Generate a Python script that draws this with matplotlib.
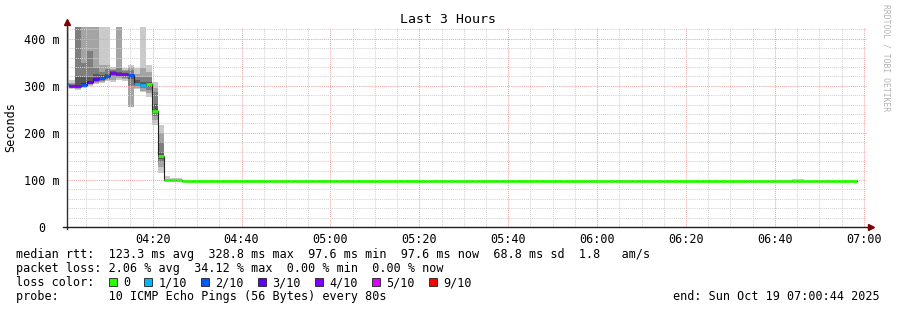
import numpy as np
import matplotlib
matplotlib.use('Agg')
import matplotlib.pyplot as plt
from matplotlib.patches import Rectangle

plt.rcParams['font.family'] = ['DejaVu Sans Mono', 'DejaVu Sans']

W, H = 897, 310

# time axis in minutes since 04:00, one RRD step = 80 s
step_sec = 80
first_step_sec = -9
view_start = 0.733   # 04:00:44
view_end = 180.733   # 07:00:44

# first steps (the slow part): 10 sorted ping times in ms
head_pings = [
    [296, 300, 301, 302, 303, 304, 305, 305, 306, 450],
    [293, 295, 297, 298, 299, 300, 302, 304, 306, 312],
    [292, 294, 296, 298, 300, 301, 318, 450, 450, 450],
    [296, 298, 300, 302, 303, 305, 318, 349, 450, 450],
    [300, 302, 304, 306, 308, 310, 318, 374, 450, 450],
    [304, 306, 308, 310, 313, 316, 325, 338, 450, 450],
    [305, 308, 310, 313, 316, 318, 322, 330, 345, 450],
    [310, 312, 314, 316, 318, 321, 325, 335, 345, 450],
    [309, 313, 318, 322, 326, 329, 331, 334, 336, 339],
    [313, 316, 319, 321, 324, 326, 330, 338, 450, 450],
    [311, 314, 317, 320, 323, 325, 328, 331, 334, 338],
    [254, 256, 300, 314, 318, 322, 326, 333, 340, 345],
    [293, 296, 299, 301, 303, 305, 312, 318, 326, 338],
    [286, 290, 295, 298, 300, 303, 308, 318, 338, 450],
    [277, 285, 292, 297, 301, 304, 308, 318, 330, 345],
    [217, 228, 236, 242, 246, 248, 262, 287, 296, 309],
    [115, 128, 138, 145, 149, 151, 160, 181, 200, 217],
]
head_median = [303.5, 300, 300, 302, 309, 315, 316, 320, 327, 325, 325, 322,
               304, 302, 304, 247, 150]
head_loss = [1, 4, 4, 2, 3, 3, 2, 2, 4, 4, 4, 2, 1, 1, 0, 0, 0]

# rest of the window: median and highest ping (ms)
tail_median = [
    99.4, 98.9, 98.9, 97.9, 97.9, 97.9, 98.4, 98.4,
    97.9, 97.9, 97.9, 97.9, 97.9, 97.9, 97.9, 97.9,
    98.4, 98.4, 97.6, 97.6, 97.6, 97.6, 97.6, 97.6,
    98.4, 98.4, 97.9, 97.9, 97.9, 97.9, 97.9, 97.9,
    97.8, 97.8, 97.8, 97.8, 97.8, 97.8, 97.8, 97.8,
    98.1, 98.1, 98.1, 98.1, 97.7, 97.7, 97.7, 97.7,
    97.7, 97.7, 97.7, 97.7, 97.7, 97.7, 97.9, 97.9,
    97.9, 97.9, 97.9, 97.9, 97.9, 97.9, 97.9, 97.9,
    97.8, 97.8, 97.8, 97.8, 97.8, 97.8, 97.8, 97.8,
    97.8, 97.8, 97.8, 97.8, 97.8, 97.8, 97.8, 97.7,
    97.7, 97.7, 97.7, 97.7, 97.7, 97.7, 97.7, 97.7,
    97.7, 97.7, 97.7, 97.7, 97.7, 97.7, 97.8, 97.8,
    97.8, 97.8, 97.8, 97.8, 97.8, 97.8, 97.8, 97.8,
    97.8, 97.8, 97.9, 98.0, 97.8, 97.8, 97.8, 97.8,
    97.8, 97.8, 97.8, 97.8, 97.6,
]
tail_top = [
    108.0, 104.5, 104.0, 98.9, 98.9, 98.9, 99.4, 99.4,
    98.9, 98.9, 98.9, 98.9, 98.9, 98.9, 98.9, 98.9,
    99.4, 99.4, 98.6, 98.6, 98.6, 98.6, 98.6, 98.6,
    100.2, 100.6, 98.9, 98.9, 98.9, 98.9, 98.9, 98.9,
    98.8, 98.8, 98.8, 98.8, 98.8, 98.8, 98.8, 98.8,
    99.1, 99.1, 99.1, 99.1, 98.7, 98.7, 98.7, 98.7,
    98.7, 98.7, 98.7, 98.7, 98.7, 98.7, 98.9, 98.9,
    98.9, 98.9, 98.9, 98.9, 98.9, 98.9, 98.9, 98.9,
    98.8, 98.8, 98.8, 98.8, 98.8, 98.8, 98.8, 98.8,
    98.8, 98.8, 98.8, 98.8, 98.8, 98.8, 98.8, 98.7,
    98.7, 98.7, 98.7, 98.7, 98.7, 98.7, 98.7, 98.7,
    98.7, 98.7, 98.7, 98.7, 98.7, 98.7, 98.8, 98.8,
    98.8, 98.8, 98.8, 98.8, 98.8, 98.8, 98.8, 98.8,
    98.8, 98.8, 101.5, 103.0, 98.8, 98.8, 98.8, 98.8,
    98.8, 98.8, 98.8, 98.8, 98.6,
]
tail_loss = [0] * len(tail_median)

loss_levels = [0, 1, 2, 3, 4, 5, 9]
loss_labels = ['0', '1/10', '2/10', '3/10', '4/10', '5/10', '9/10']
loss_colors = ['#26ff00', '#00b8ff', '#0059ff', '#5e00ff', '#7e00ff', '#dd00ff', '#ff0000']
smoke_shades = ['#cacaca', '#a4a4a4', '#7e7e7e', '#585858', '#323232']

xtick_min = [20, 40, 60, 80, 100, 120, 140, 160, 180]
xtick_labels = ['04:20', '04:40', '05:00', '05:20', '05:40', '06:00', '06:20', '06:40', '07:00']
ytick_vals = [0, 100, 200, 300, 400]
ytick_labels = ['0  ', '100 m', '200 m', '300 m', '400 m']

stats_lines = [
    'median rtt:  123.3 ms avg  328.8 ms max  97.6 ms min  97.6 ms now  68.8 ms sd  1.8   am/s',
    'packet loss: 2.06 % avg  34.12 % max  0.00 % min  0.00 % now',
    'loss color:',
    'probe:       10 ICMP Echo Pings (56 Bytes) every 80s',
]
end_text = 'end: Sun Oct 19 07:00:44 2025'


def stairs(edges, vals):
    x = np.repeat(edges, 2)[1:-1]
    y = np.repeat(np.asarray(vals, dtype=float), 2)
    return x, y


def loss_color(n):
    idx = max(i for i, lv in enumerate(loss_levels) if lv <= n)
    return loss_colors[idx]


pings = np.array(head_pings, dtype=float)
n_head = len(head_median)
medians = np.array(head_median + tail_median, dtype=float)
losses = head_loss + tail_loss
n_steps = len(medians)
edges = (first_step_sec + step_sec * np.arange(n_steps + 1)) / 60.0

fig = plt.figure(figsize=(W / 100, H / 100), dpi=100)
fig.patch.set_facecolor('white')
ax = fig.add_axes([67 / W, 1 - 227 / H, 800 / W, 200 / H])

# smoke
for i in range(5):
    x, lo = stairs(edges[:n_head + 1], pings[:, i])
    _, hi = stairs(edges[:n_head + 1], pings[:, 9 - i])
    ax.fill_between(x, lo, hi, color=smoke_shades[i], lw=0, zorder=1)
x, lo = stairs(edges[n_head:], tail_median)
_, hi = stairs(edges[n_head:], tail_top)
ax.fill_between(x, lo, hi, color=smoke_shades[0], lw=0, zorder=1)

# median
x, y = stairs(edges, medians)
ax.plot(x, y, color='#202020', lw=0.8, zorder=3)
ax.hlines(medians, edges[:-1], edges[1:], colors=[loss_color(n) for n in losses],
          lw=2.0, zorder=4)

ax.set_xlim(view_start, view_end)
ax.set_ylim(0, 425)
ax.set_xticks(xtick_min)
ax.set_xticklabels(xtick_labels, fontsize=8.5)
ax.set_xticks(np.arange(5, 181, 5), minor=True)
ax.set_yticks(ytick_vals)
ax.set_yticklabels(ytick_labels, fontsize=8.5)
ax.set_yticks(np.arange(0, 425, 20), minor=True)
ax.tick_params(which='both', length=0)
ax.tick_params(axis='x', pad=4)
ax.tick_params(axis='y', pad=5)
ax.set_axisbelow(False)
ax.grid(which='major', color='#f0a4a4', ls=(0, (1, 1)), lw=0.75)
ax.grid(which='minor', color='#d2d2d2', ls=(0, (1, 1)), lw=0.75)
for s in ax.spines.values():
    s.set_visible(False)

# axes with arrows
ax.plot([0, 0], [-0.01, 1.02], color='#303030', lw=1, transform=ax.transAxes,
        clip_on=False, zorder=5)
ax.plot([-0.005, 1.006], [0, 0], color='#202020', lw=1, transform=ax.transAxes,
        clip_on=False, zorder=5)
ax.plot([0], [1.025], marker='^', ms=4.5, color='#7f0000', mec='#7f0000',
        transform=ax.transAxes, clip_on=False, zorder=6)
ax.plot([1.005], [0], marker='>', ms=4.5, color='#7f0000', mec='#7f0000',
        transform=ax.transAxes, clip_on=False, zorder=6)


def fx(px):
    return px / W


def fy(py):
    return 1 - py / H


fig.text(fx(448), fy(23), 'Last 3 Hours', ha='center', va='baseline', fontsize=9.5)
fig.text(fx(11), fy(127), 'Seconds', ha='center', va='center', rotation=90, fontsize=8.5)
fig.text(fx(886), fy(4), 'RRDTOOL / TOBI OETIKER', ha='center', va='top', rotation=270,
         fontsize=5.8, color='#b4b4b4')

char_w = 7.12
x0 = 16
baselines = [258, 272, 286, 300]
for line, yb in zip(stats_lines, baselines):
    fig.text(fx(x0), fy(yb), line, ha='left', va='baseline', fontsize=8.5)

# loss colour legend
col = 13
for lab, c in zip(loss_labels, loss_colors):
    bx = x0 + col * char_w
    fig.add_artist(Rectangle((fx(bx), fy(286)), 8 / W, 8 / H, transform=fig.transFigure,
                             facecolor=c, edgecolor='#202020', lw=0.6))
    fig.text(fx(x0 + (col + 2) * char_w), fy(286), lab, ha='left', va='baseline',
             fontsize=8.5)
    col += 2 + len(lab) + 2

fig.text(fx(880), fy(300), end_text, ha='right', va='baseline', fontsize=8.5)

fig.savefig('out.png', dpi=100, facecolor='white')
